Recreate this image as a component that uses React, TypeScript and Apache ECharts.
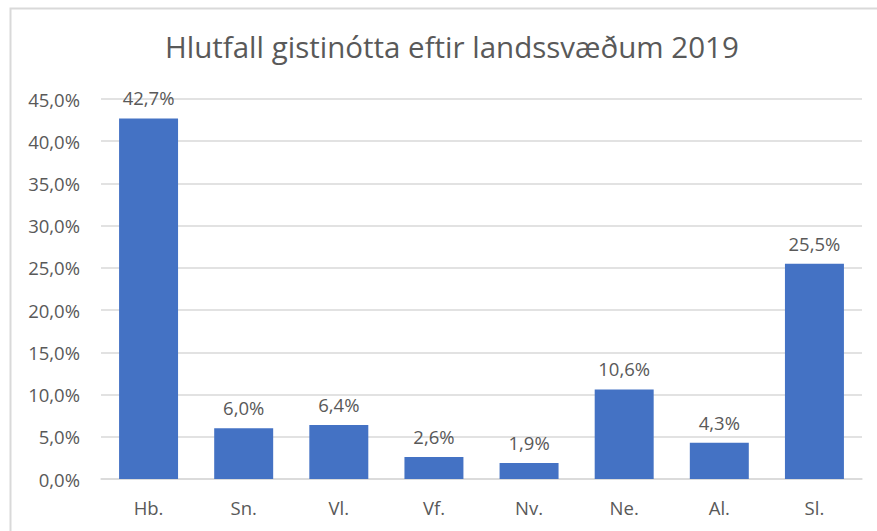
import React, { useEffect, useRef } from "react";
import * as echarts from "echarts";

const categories = ["Hb.", "Sn.", "Vl.", "Vf.", "Nv.", "Ne.", "Al.", "Sl."];
const values = [42.7, 6.0, 6.4, 2.6, 1.9, 10.6, 4.3, 25.5];
const titleText = "Hlutfall gistinótta eftir landssvæðum 2019";

const fmt = (v: number) => v.toFixed(1).replace(".", ",") + "%";

export default function App() {
  const ref = useRef<HTMLDivElement>(null);
  useEffect(() => {
    document.body.style.margin = "0";
    const chart = echarts.init(ref.current!, null, { renderer: "svg" });
    const font = "Open Sans";
    chart.setOption({
      animation: false,
      backgroundColor: "#ffffff",
      graphic: [
        {
          type: "rect",
          shape: { x: 10.5, y: 8.5, width: 1000, height: 1000 },
          style: { fill: "none", stroke: "#d9d9d9", lineWidth: 2 },
          silent: true,
        },
      ],
      title: {
        text: titleText,
        left: 160,
        top: 26,
        textStyle: { fontFamily: font, fontSize: 29.5, fontWeight: "normal", color: "#595959" },
      },
      grid: { left: 101, right: 15, top: 99, bottom: 52, containLabel: false },
      xAxis: {
        type: "category",
        data: categories,
        axisLine: { lineStyle: { color: "#d9d9d9", width: 1.5 } },
        axisTick: { show: false },
        axisLabel: { fontFamily: font, fontSize: 18.5, color: "#595959", margin: 19 },
      },
      yAxis: {
        type: "value",
        min: 0,
        max: 45,
        interval: 5,
        axisLine: { show: false },
        axisTick: { show: false },
        splitLine: { lineStyle: { color: "#d9d9d9", width: 1.5 } },
        axisLabel: {
          fontFamily: font,
          fontSize: 18.5,
          color: "#595959",
          margin: 21,
          formatter: (v: number) => fmt(v),
        },
      },
      series: [
        {
          type: "bar",
          data: values,
          barWidth: "62%",
          itemStyle: { color: "#4472C4" },
          label: {
            show: true,
            position: "top",
            distance: 11,
            fontFamily: font,
            fontSize: 18.5,
            color: "#595959",
            formatter: (p: any) => fmt(p.value),
          },
        },
      ],
    });
    return () => chart.dispose();
  }, []);
  return <div ref={ref} style={{ width: 877, height: 531 }} />;
}
